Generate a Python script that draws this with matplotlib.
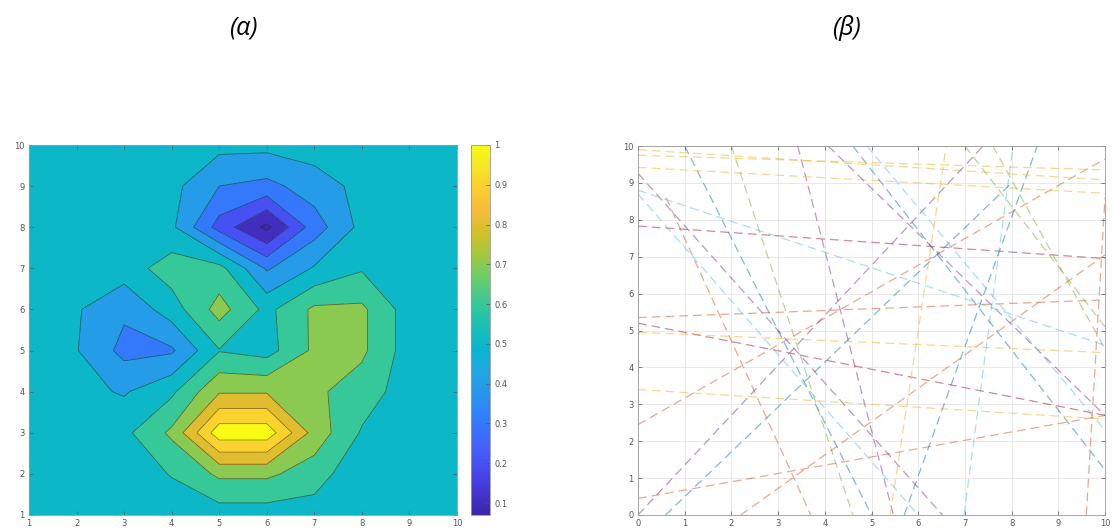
import numpy as np
import matplotlib
matplotlib.use("Agg")
import matplotlib.pyplot as plt
from matplotlib.colors import LinearSegmentedColormap, Normalize
from matplotlib.cm import ScalarMappable

# ---------------- data: panel (a) contour grid ----------------
grid_x = [1, 2, 3, 4, 5, 6, 7, 8, 9, 10]
grid_y = [1, 2, 3, 4, 5, 6, 7, 8, 9, 10]
# rows: y = 1..10 ; columns: x = 1..10
z_rows = [
    [0.55, 0.55, 0.55, 0.55, 0.55, 0.55, 0.55, 0.55, 0.55, 0.55],
    [0.55, 0.55, 0.55, 0.605, 0.72, 0.72, 0.65, 0.52, 0.55, 0.55],
    [0.55, 0.55, 0.575, 0.72, 1.06, 1.06, 0.76, 0.59, 0.55, 0.55],
    [0.55, 0.53, 0.49, 0.58, 0.79, 0.79, 0.72, 0.65, 0.55, 0.55],
    [0.55, 0.505, 0.37, 0.385, 0.595, 0.56, 0.72, 0.72, 0.55, 0.55],
    [0.55, 0.51, 0.418, 0.55, 0.74, 0.572, 0.72, 0.72, 0.55, 0.55],
    [0.55, 0.55, 0.55, 0.65, 0.635, 0.3875, 0.51, 0.59, 0.55, 0.55],
    [0.55, 0.55, 0.55, 0.52, 0.26, 0.075, 0.35, 0.53, 0.55, 0.55],
    [0.55, 0.55, 0.55, 0.53, 0.40, 0.37, 0.45, 0.53, 0.55, 0.55],
    [0.55, 0.55, 0.55, 0.55, 0.53, 0.53, 0.55, 0.55, 0.55, 0.55],
]
contour_levels = [0.07, 0.1, 0.2, 0.3, 0.4, 0.5, 0.6, 0.7, 0.8, 0.9, 1.0, 1.07]
cbar_ticks = [0.1, 0.2, 0.3, 0.4, 0.5, 0.6, 0.7, 0.8, 0.9, 1.0]
cbar_labels = ["0.1", "0.2", "0.3", "0.4", "0.5", "0.6", "0.7", "0.8", "0.9", "1"]
ticks_a = [1, 2, 3, 4, 5, 6, 7, 8, 9, 10]

# ---------------- data: panel (b) dashed lines ----------------
line_x0 = [0, 0, 0, 0, 0, 2.2, 5.7, 6.98, 3.42, 1.0, 0, 0.6, 9.6, 0, 0, 4.6, 4.07, 0, 0.59,
           0, 0, 5.4, 7.6, 0, 4.9, 0, 2.0, 0, 7.0]
line_y0 = [7.83, 5.35, 5.2, 2.45, 0.45, 0, 0, 0, 10, 10, 9.26, 8.6, 0, 9.42, 9.9, 10, 10, 0, 0,
           8.8, 3.4, 0, 10, 8.7, 10, 4.95, 10, 9.75, 10]
line_x1 = [10, 10, 10, 10, 10, 10, 8.55, 8.03, 5.47, 5.0, 6.52, 3.7, 10, 10, 10, 10, 10, 7.39, 8.0,
           10, 10, 6.6, 10, 6.0, 10, 10, 4.6, 10, 10]
line_y1 = [6.95, 5.83, 2.7, 9.65, 2.7, 7.05, 10, 10, 0, 0, 0, 0, 8.6, 8.72, 9.08, 1.22, 2.7, 10, 9.0,
           4.6, 2.6, 10, 4.5, 0, 2.3, 4.4, 0, 9.35, 5.1]
line_col = ["#A2142F", "#D95319", "#A2142F", "#D95319", "#D95319", "#D95319", "#0072BD",
            "#4DBEEE", "#7E2F8E", "#0072BD", "#7E2F8E", "#D95319", "#D95319", "#EDB120",
            "#EDB120", "#0072BD", "#7E2F8E", "#7E2F8E", "#0072BD", "#4DBEEE", "#EDB120",
            "#EDB120", "#77AC30", "#4DBEEE", "#4DBEEE", "#EDB120", "#77AC30", "#EDB120",
            "#77AC30"]
ticks_b = [0, 1, 2, 3, 4, 5, 6, 7, 8, 9, 10]

titles = ["(α)", "(β)"]

# ---------------- parula colormap ----------------
parula_idx = [0, 4, 8, 12, 16, 20, 24, 28, 32, 36, 40, 44, 48, 52, 56, 60, 63]
parula_rgb = [
    (0.2422, 0.1504, 0.6603), (0.2706, 0.2147, 0.8364), (0.2813, 0.3006, 0.9414),
    (0.2699, 0.3892, 0.9906), (0.1963, 0.4847, 0.9892), (0.1687, 0.5703, 0.9359),
    (0.1248, 0.6459, 0.8883), (0.0297, 0.7082, 0.8163), (0.0964, 0.7500, 0.7120),
    (0.2161, 0.7843, 0.5923), (0.3909, 0.8029, 0.4354), (0.6174, 0.7876, 0.2612),
    (0.8203, 0.7498, 0.1535), (0.9728, 0.7298, 0.2394), (0.9892, 0.8136, 0.1885),
    (0.9597, 0.9135, 0.1423), (0.9769, 0.9839, 0.0805),
]
parula = LinearSegmentedColormap.from_list(
    "parula", list(zip([i / 63 for i in parula_idx], parula_rgb)))

plt.rcParams['font.family'] = ['DejaVu Sans']
fig = plt.figure(figsize=(11.14, 5.32), dpi=100)
W, H = 1114, 532


def fig_rect(x0, y0, x1, y1):
    return [x0 / W, 1 - y1 / H, (x1 - x0) / W, (y1 - y0) / H]


tick_color = "#555555"

# ---------------- panel (a) ----------------
ax1 = fig.add_axes(fig_rect(29, 145, 457, 515))
X, Y = np.meshgrid(grid_x, grid_y)
Z = np.array(z_rows)
norm = Normalize(vmin=0.07, vmax=1.0)
band_cols = [parula(norm(min(l, 1.0))) for l in contour_levels[:-1]]
ax1.contourf(X, Y, Z, levels=contour_levels, colors=band_cols)
ax1.contour(X, Y, Z, levels=contour_levels[1:-1], colors="#1a1a1a",
            linewidths=0.6, alpha=0.55)
ax1.set_xlim(1, 10)
ax1.set_ylim(1, 10)
ax1.set_xticks(ticks_a)
ax1.set_yticks(ticks_a)
for sp in ax1.spines.values():
    sp.set_color("#999999")
    sp.set_linewidth(0.6)
ax1.tick_params(direction="in", length=3, width=0.5, labelsize=6,
                colors=tick_color, top=True, right=True, pad=3)

cax = fig.add_axes(fig_rect(471, 145, 490, 515))
cb = fig.colorbar(ScalarMappable(norm=norm, cmap=parula), cax=cax, ticks=cbar_ticks)
cb.set_ticklabels(cbar_labels)
cb.outline.set_edgecolor("#999999")
cb.outline.set_linewidth(0.6)
cax.tick_params(direction="in", length=3, width=0.5, labelsize=6,
                colors=tick_color, pad=3)

# ---------------- panel (b) ----------------
ax2 = fig.add_axes(fig_rect(638, 146, 1105, 515))
for x0, y0, x1, y1, c in zip(line_x0, line_y0, line_x1, line_y1, line_col):
    ax2.plot([x0, x1], [y0, y1], linestyle=(0, (7, 4)), color=c, lw=0.9, alpha=0.5)
ax2.set_xlim(0, 10)
ax2.set_ylim(0, 10)
ax2.set_xticks(ticks_b)
ax2.set_yticks(ticks_b)
ax2.grid(True, color="#e4e4e4", linewidth=0.6)
ax2.set_axisbelow(True)
for sp in ax2.spines.values():
    sp.set_color("#999999")
    sp.set_linewidth(0.6)
ax2.tick_params(direction="in", length=3, width=0.5, labelsize=6,
                colors=tick_color, top=True, right=True, pad=3)

# ---------------- titles ----------------
for xc, t in zip([243, 846], titles):
    fig.text(xc / W, 1 - 28 / H, t, ha="center", va="center", fontsize=18,
             style="italic", family=["Open Sans", "DejaVu Sans"])

fig.savefig("out.png", dpi=100)
